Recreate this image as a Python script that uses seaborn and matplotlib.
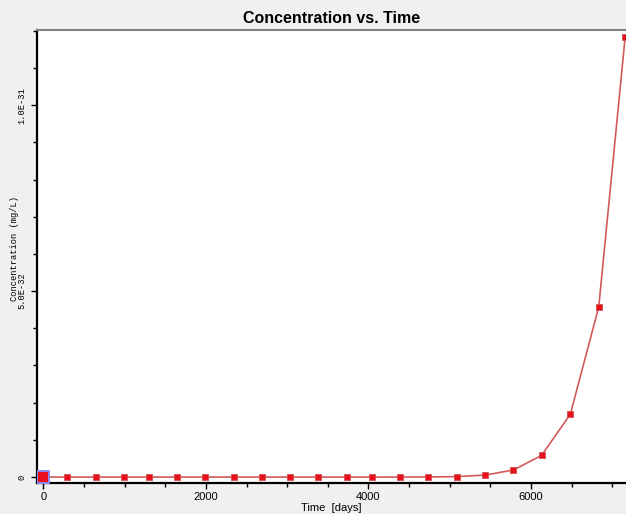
import matplotlib
matplotlib.use("Agg")
import matplotlib.pyplot as plt
import seaborn as sns
import pandas as pd
from matplotlib.ticker import MultipleLocator, FixedLocator

# values
time_days = [0, 295, 645, 990, 1300, 1645, 1990, 2345, 2695, 3035, 3380,
             3730, 4040, 4390, 4735, 5090, 5440, 5785, 6130, 6485, 6835, 7160]
conc_mg_l = [0, 0, 0, 0, 0, 0, 0, 0, 0, 0, 0,
             0, 0, 0.0005e-32, 0.002e-32, 0.012e-32, 0.054e-32, 0.19e-32,
             0.58e-32, 1.69e-32, 4.58e-32, 11.84e-32]

y_ticks = [0, 5.0e-32, 1.0e-31]
y_tick_labels = ["0", "5.0E-32", "1.0E-31"]
x_ticks = [0, 2000, 4000, 6000]

df = pd.DataFrame({"Time": time_days, "Concentration": conc_mg_l})

sns.set_style("white")
plt.rcParams["font.family"] = ["Liberation Sans", "DejaVu Sans"]

fig = plt.figure(figsize=(6.26, 5.14), dpi=100, facecolor="#f0f0f0")
ax = fig.add_axes([37 / 626, 31 / 514, 589 / 626, 453 / 514])
ax.set_facecolor("white")

sns.lineplot(data=df, x="Time", y="Concentration", ax=ax, color="#d35a5a",
             linewidth=1.2, marker="s", markersize=3.8,
             markerfacecolor="#e8101a", markeredgecolor="#d05050",
             markeredgewidth=0.6, sort=True)
# highlighted first point
sns.scatterplot(data=df.iloc[:1], x="Time", y="Concentration", ax=ax,
                marker="s", s=75, color="#e8101a", edgecolor="#8a8af0",
                linewidth=1.4, zorder=5)

ax.set_xlim(-80, 7170)
ax.set_ylim(-0.16e-32, 12.02e-32)

ax.xaxis.set_major_locator(FixedLocator(x_ticks))
ax.xaxis.set_minor_locator(MultipleLocator(500))
ax.yaxis.set_major_locator(FixedLocator(y_ticks))
ax.yaxis.set_minor_locator(MultipleLocator(1e-32))
ax.set_xticklabels([str(v) for v in x_ticks], fontsize=8, color="black")
ax.set_yticklabels(y_tick_labels, rotation=90, va="center",
                   family="Liberation Mono", fontsize=6.3, color="black")

ax.tick_params(axis="both", which="major", direction="out", length=4.5,
               width=1, color="black", bottom=True, left=True)
ax.tick_params(axis="both", which="minor", direction="out", length=3,
               width=1, color="black", bottom=True, left=True)
ax.tick_params(axis="x", which="major", pad=2)
ax.tick_params(axis="y", which="major", pad=3)

for side in ["left", "bottom"]:
    ax.spines[side].set_color("black")
    ax.spines[side].set_linewidth(1.6)
ax.spines["top"].set_color("#808080")
ax.spines["top"].set_linewidth(1.5)
ax.spines["right"].set_visible(False)

ax.set_xlabel("Time  [days]", fontsize=8, labelpad=0.5, color="black")
ax.set_ylabel("Concentration (mg/L)", family="Liberation Mono", fontsize=6.3,
              va="center", color="black")
ax.yaxis.set_label_coords(-0.038, 0.517)
ax.set_title("Concentration vs. Time", fontsize=11.5, fontweight="bold",
             pad=5, color="black")

fig.savefig("out.png", dpi=100, facecolor=fig.get_facecolor())
